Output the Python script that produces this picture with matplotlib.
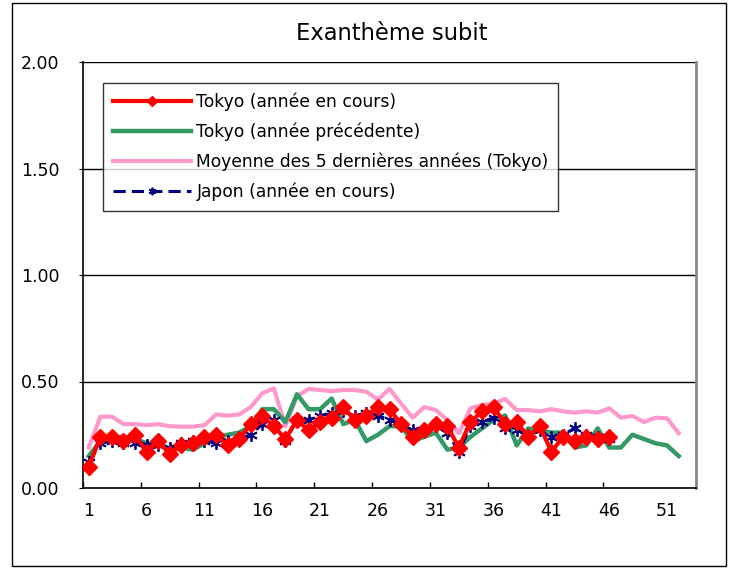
import matplotlib
matplotlib.use("Agg")
import matplotlib.pyplot as plt
from matplotlib.patches import Rectangle
from matplotlib.ticker import FixedLocator

plt.rcParams["font.family"] = ["DejaVu Sans"]

# ── Data (weekly reports per sentinel) ────────────────────────
tokyo_now = [0.10, 0.24, 0.24, 0.22, 0.25, 0.17, 0.22, 0.16, 0.20, 0.21,
             0.24, 0.25, 0.20, 0.23, 0.30, 0.34, 0.29, 0.23, 0.32, 0.27,
             0.31, 0.33, 0.38, 0.32, 0.34, 0.38, 0.37, 0.30, 0.24, 0.27,
             0.30, 0.29, 0.19, 0.31, 0.36, 0.38, 0.30, 0.31, 0.24, 0.29,
             0.17, 0.24, 0.22, 0.24, 0.23, 0.24]
tokyo_prev = [0.15, 0.22, 0.24, 0.24, 0.23, 0.21, 0.21, 0.18, 0.19, 0.18,
              0.21, 0.24, 0.25, 0.26, 0.29, 0.37, 0.37, 0.31, 0.44, 0.37,
              0.37, 0.42, 0.30, 0.32, 0.22, 0.25, 0.29, 0.29, 0.22, 0.24,
              0.26, 0.18, 0.19, 0.24, 0.28, 0.32, 0.34, 0.20, 0.28, 0.27,
              0.26, 0.26, 0.19, 0.20, 0.28, 0.19, 0.19, 0.25, 0.23, 0.21,
              0.20, 0.15]
tokyo_5y = [0.19, 0.335, 0.335, 0.30, 0.30, 0.295, 0.30, 0.29, 0.288, 0.288,
            0.295, 0.345, 0.34, 0.345, 0.38, 0.445, 0.468, 0.29, 0.43, 0.465,
            0.46, 0.455, 0.46, 0.46, 0.452, 0.415, 0.465, 0.397, 0.33, 0.38,
            0.366, 0.32, 0.257, 0.374, 0.39, 0.397, 0.418, 0.366, 0.366, 0.36,
            0.37, 0.36, 0.354, 0.36, 0.354, 0.374, 0.33, 0.338, 0.31, 0.33,
            0.327, 0.257]
japan_now = [0.12, 0.21, 0.22, 0.21, 0.21, 0.20, 0.20, 0.19, 0.21, 0.22,
             0.22, 0.21, 0.22, 0.23, 0.25, 0.30, 0.32, 0.22, 0.32, 0.32,
             0.34, 0.35, 0.36, 0.34, 0.35, 0.34, 0.32, 0.30, 0.27, 0.27,
             0.29, 0.26, 0.17, 0.29, 0.31, 0.33, 0.28, 0.27, 0.25, 0.27,
             0.24, 0.25, 0.28, 0.25, 0.24, 0.23]

labels = ["Tokyo (année en cours)", "Tokyo (année précédente)",
          "Moyenne des 5 dernières années (Tokyo)", "Japon (année en cours)"]
title = "Exanthème subit"
n_weeks = 53

# ── Figure ────────────────────────────────────────────────────
fig = plt.figure(figsize=(7.32, 5.69), dpi=100)
fig.patch.set_facecolor("white")
# outer chart border
fig.patches.append(Rectangle((12 / 732, 3 / 569), 714 / 732, 563 / 569,
                             transform=fig.transFigure, fill=False,
                             edgecolor="black", linewidth=1.0))

ax = fig.add_axes([83 / 732, 1 - 488 / 569, 613 / 732, 426 / 569])

def weeks(vals):
    return list(range(1, len(vals) + 1))

ax.plot(weeks(tokyo_5y), tokyo_5y, color="#ff99cc", linewidth=3.0,
        label=labels[2], zorder=2)
ax.plot(weeks(tokyo_prev), tokyo_prev, color="#339966", linewidth=3.2,
        label=labels[1], zorder=3)
ax.plot(weeks(japan_now), japan_now, color="#000080", linewidth=2.2,
        linestyle=(0, (4, 2)), marker=(6, 2, 0), markersize=9,
        markeredgewidth=1.3, label=labels[3], zorder=4)
ax.plot(weeks(tokyo_now), tokyo_now, color="#ff0000", linewidth=3.0,
        marker="D", markersize=8, label=labels[0], zorder=5)

ax.set_xlim(0.5, n_weeks + 0.5)
ax.set_ylim(0, 2.0)
ax.set_yticks([0, 0.5, 1.0, 1.5, 2.0])
ax.set_yticklabels([f"{v:.2f}" for v in [0, 0.5, 1.0, 1.5, 2.0]])
ax.yaxis.grid(True, color="black", linewidth=1.0)
ax.set_axisbelow(True)

ax.set_xticks(list(range(1, n_weeks + 1, 5)))
ax.tick_params(axis="x", length=0, pad=10, labelsize=12.5)
ax.xaxis.set_minor_locator(FixedLocator([w + 0.5 for w in range(0, 50, 5)]))
ax.tick_params(axis="x", which="minor", direction="in", length=4, width=1)
ax.tick_params(axis="y", direction="out", length=3, labelsize=12.5, pad=14)

for side in ("left", "bottom"):
    ax.spines[side].set_linewidth(1.2)
ax.spines["top"].set_visible(False)
ax.spines["right"].set_color("#888888")
ax.spines["right"].set_linewidth(2.0)

fig.text(392 / 732, 1 - 33 / 569, title, ha="center", va="center",
         fontsize=16.3)

handles, labs = ax.get_legend_handles_labels()
order = [labs.index(l) for l in labels]
leg = ax.legend([handles[i] for i in order], [labs[i] for i in order],
                loc="upper left", bbox_to_anchor=(0.033, 0.951),
                borderaxespad=0, frameon=True, fancybox=False,
                edgecolor="black", fontsize=12.3, handlelength=4.6,
                markerscale=0.6, labelspacing=0.68, borderpad=0.55,
                handletextpad=0.3)
leg.get_frame().set_linewidth(1.0)

fig.savefig("out.png", dpi=100, facecolor="white")
